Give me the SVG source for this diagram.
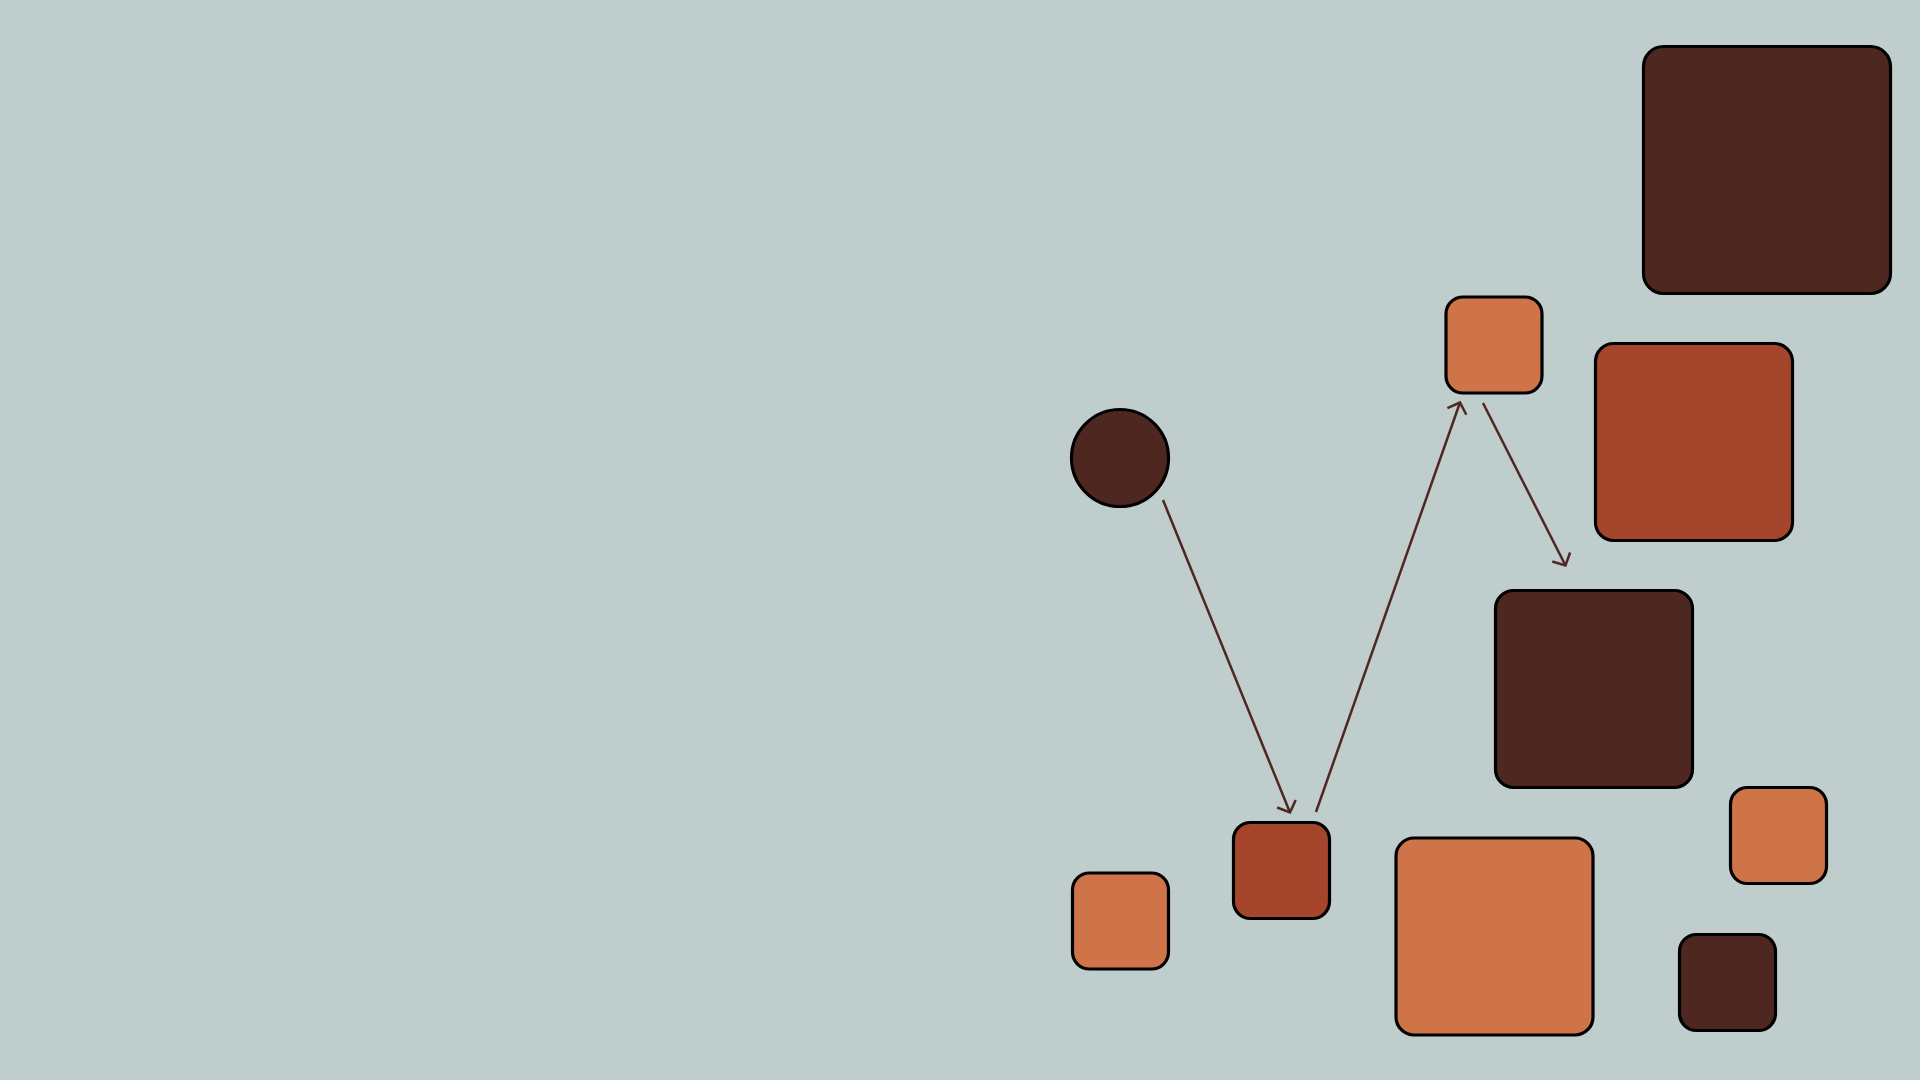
<svg xmlns="http://www.w3.org/2000/svg" width="1920" height="1080" viewBox="0 0 1920 1080">
<style>
.n{stroke:#000;stroke-width:3.2}
.dark{fill:#4E2820}
.red{fill:#A5452C}
.orange{fill:#CF7349}
.c{fill:none;stroke:#4E2820;stroke-width:2.5;marker-end:url(#arr)}
</style>
<defs>
<marker id="arr" markerUnits="userSpaceOnUse" markerWidth="30" markerHeight="30" viewBox="-15 -15 30 30" refX="0" refY="0" orient="auto">
<path d="M -9.5 -10 L 0 0 L -9.5 10" fill="none" stroke="#4E2820" stroke-width="2.5"/>
</marker>
</defs>
<rect width="1920" height="1080" fill="#BFCDCD"/>
<g id="n1"><circle class="n dark" cx="1120" cy="458" r="48.5"/></g>
<g id="n2"><rect class="n orange" x="1446" y="297" width="96" height="96" rx="17"/></g>
<g id="n3"><rect class="n dark" x="1643.5" y="46.5" width="247" height="247" rx="20"/></g>
<g id="n4"><rect class="n red" x="1595.5" y="343.5" width="197" height="197" rx="18"/></g>
<g id="n5"><rect class="n dark" x="1495.5" y="590.5" width="197" height="197" rx="18"/></g>
<g id="n6"><rect class="n red" x="1233.5" y="822.5" width="96" height="96" rx="17"/></g>
<g id="n7"><rect class="n orange" x="1072.5" y="873" width="96" height="96" rx="17"/></g>
<g id="n8"><rect class="n orange" x="1396" y="838" width="197" height="197" rx="18"/></g>
<g id="n9"><rect class="n orange" x="1730.5" y="787.5" width="96" height="96" rx="17"/></g>
<g id="n10"><rect class="n dark" x="1679.5" y="934.5" width="96" height="96" rx="17"/></g>
<g id="connectors">
<line class="c" x1="1163" y1="500" x2="1290" y2="812.5"/>
<line class="c" x1="1316" y1="812" x2="1460" y2="402.5"/>
<line class="c" x1="1483" y1="403" x2="1565.5" y2="565.5"/>
</g>
</svg>
